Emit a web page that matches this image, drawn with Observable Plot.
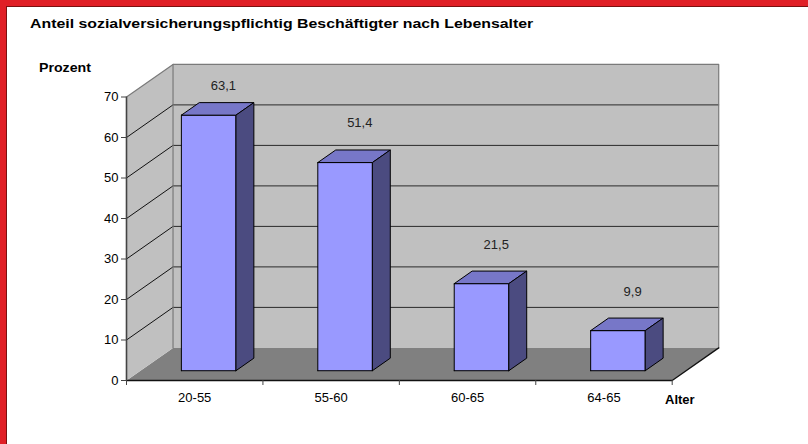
<!DOCTYPE html>
<html>
<head>
<meta charset="utf-8">
<script src="https://cdn.jsdelivr.net/npm/d3@7"></script>
<script src="https://cdn.jsdelivr.net/npm/@observablehq/plot@0.6"></script>
<style>
  html, body { margin: 0; padding: 0; background: #fff; }
  #wrap { position: relative; width: 808px; height: 444px; overflow: hidden; background: #fff;
          font-family: "Liberation Sans", Arial, sans-serif; }
  #wrap svg { position: absolute; left: 0; top: 0; overflow: visible; }
  .lbl { position: absolute; font-weight: bold; font-size: 13px; line-height: 13px; color: #000; white-space: nowrap; transform-origin: 0 50%; }
  .red { position: absolute; background: #E01F26; }
  .dark { position: absolute; background: #7a1010; }
</style>
</head>
<body>
<div id="wrap">
  <div class="red" style="left:0;top:0;width:808px;height:6px"></div>
  <div class="dark" style="left:6px;top:6px;width:802px;height:1px"></div>
  <div class="red" style="left:0;top:0;width:6px;height:444px"></div>
  <div class="dark" style="left:6px;top:6px;width:1px;height:438px"></div>
  <div class="lbl" id="title" style="left:30px;top:16.5px;transform:scaleX(1.22)">Anteil sozialversicherungspflichtig Beschäftigter nach Lebensalter</div>
  <div class="lbl" style="left:38.5px;top:60.5px;transform:scaleX(1.09)">Prozent</div>
  <div class="lbl" style="left:665px;top:393px">Alter</div>
</div>
<script>
// ---- data ----
const categories = ["20-55", "55-60", "60-65", "64-65"];
const values = [63.1, 51.4, 21.5, 9.9];
const valueLabels = ["63,1", "51,4", "21,5", "9,9"];
const yTicks = [0, 10, 20, 30, 40, 50, 60, 70];

// ---- 3D layout constants (oblique projection in data units) ----
const N = categories.length;
const YMAX = yTicks[yTicks.length - 1];
const DX = 0.341;   // depth shift, in category units
const DY = 8.05;    // depth shift, in value units
const F0 = 0.30, F1 = 0.685, BW = 0.4;

function poly(id, pts, close = true) {
  const p = pts.map(([x, v, d]) => ({id, x: x + d * DX, y: v + d * DY}));
  if (close) p.push({...p[0]});
  return p;
}

const floor = poly("floor", [[0,0,0],[N,0,0],[N,0,1],[0,0,1]]);
const side = poly("side", [[0,0,0],[0,YMAX,0],[0,YMAX,1],[0,0,1]]);
const back = poly("back", [[0,0,1],[N,0,1],[N,YMAX,1],[0,YMAX,1]]);
const backBorder = poly("bb", [[0,0,1],[0,YMAX,1],[N,YMAX,1],[N,0,1]], false);
const sideTop = poly("st", [[0,YMAX,0],[0,YMAX,1]], false);
const inner = yTicks.filter(t => t > 0 && t < YMAX);
const gridBack = inner.flatMap(t => poly("gb" + t, [[0,t,1],[N,t,1]], false));
const gridSide = inner.flatMap(t => poly("gs" + t, [[0,t,0],[0,t,1]], false));
const floorEdge = poly("fe", [[0,0,0],[N,0,0],[N,0,1]], false);

const fronts = [], tops = [], sides = [];
values.forEach((v, i) => {
  const x0 = i + 0.5 - BW / 2, x1 = i + 0.5 + BW / 2;
  fronts.push(...poly("f" + i, [[x0,0,F0],[x1,0,F0],[x1,v,F0],[x0,v,F0]]));
  tops.push(...poly("t" + i, [[x0,v,F0],[x1,v,F0],[x1,v,F1],[x0,v,F1]]));
  sides.push(...poly("s" + i, [[x1,0,F0],[x1,0,F1],[x1,v,F1],[x1,v,F0]]));
});

const chart = Plot.plot({
  width: 808,
  height: 444,
  marginLeft: 126,
  marginRight: 136.3,
  marginTop: 96.5,
  marginBottom: 64,
  x: {type: "linear", domain: [0, N], axis: null, label: null},
  y: {type: "linear", domain: [0, YMAX], axis: null, label: null},
  style: {fontFamily: "'Liberation Sans', Arial, sans-serif", fontSize: "13px", background: "transparent", overflow: "visible"},
  marks: [
    Plot.line(floor, {x: "x", y: "y", z: "id", fill: "#808080", stroke: "none"}),
    Plot.line(side, {x: "x", y: "y", z: "id", fill: "#C0C0C0", stroke: "none"}),
    Plot.line(back, {x: "x", y: "y", z: "id", fill: "#C0C0C0", stroke: "none"}),
    Plot.line(gridBack, {x: "x", y: "y", z: "id", stroke: "#2a2a2a", strokeWidth: 1}),
    Plot.line(gridSide, {x: "x", y: "y", z: "id", stroke: "#111", strokeWidth: 1}),
    Plot.line(backBorder, {x: "x", y: "y", z: "id", stroke: "#7a7a7a", strokeWidth: 1.2}),
    Plot.line(sideTop, {x: "x", y: "y", z: "id", stroke: "#7a7a7a", strokeWidth: 1.2}),
    Plot.line(floorEdge, {x: "x", y: "y", z: "id", stroke: "#111", strokeWidth: 1.3}),
    Plot.ruleX([0], {y1: 0, y2: YMAX, stroke: "#444", strokeWidth: 1.6}),
    Plot.axisY({ticks: yTicks, tickSize: 5, tickPadding: 3, fontSize: 13, label: null, stroke: "#444"}),
    Plot.axisX({ticks: d3.range(0, N + 1), tickSize: 5, tickFormat: () => "", label: null, stroke: "#444"}),
    Plot.axisX({ticks: categories.map((c, i) => i + 0.5), tickSize: 0, tickPadding: 12.5,
                tickFormat: d => categories[Math.floor(d)], fontSize: 13, label: null}),
    Plot.line(fronts, {x: "x", y: "y", z: "id", fill: "#9999FF", stroke: "#000", strokeWidth: 1, strokeLinejoin: "miter"}),
    Plot.line(tops, {x: "x", y: "y", z: "id", fill: "#7777C8", stroke: "#000", strokeWidth: 1, strokeLinejoin: "miter"}),
    Plot.line(sides, {x: "x", y: "y", z: "id", fill: "#4B4B80", stroke: "#000", strokeWidth: 1, strokeLinejoin: "miter"}),
    Plot.text(values, {x: (d, i) => i + 0.71, y: d => Math.min(d + 12.1, 72.8),
                       text: (d, i) => valueLabels[i], fontSize: 13, fill: "#222"})
  ]
});
document.getElementById("wrap").appendChild(chart);
</script>
</body>
</html>
